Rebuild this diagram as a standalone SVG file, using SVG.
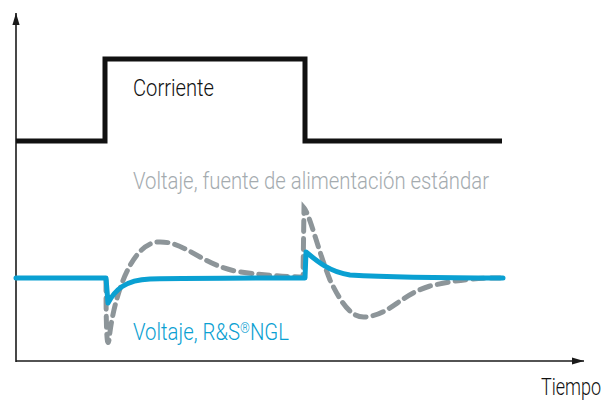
<svg xmlns="http://www.w3.org/2000/svg" width="608" height="401" viewBox="0 0 608 401">
<defs>
<style>
.t{font-family:Roboto,"Liberation Sans",sans-serif;font-weight:300;font-size:23px}
.ax{stroke:#1a1a1a;stroke-width:1.6;fill:none}
</style>
<marker id="ah" markerWidth="12" markerHeight="12" viewBox="0 0 20 12" refX="20" refY="6" markerUnits="userSpaceOnUse" orient="auto">
<path d="M0,0 L20,6 L0,12 Z" fill="#1a1a1a"/>
</marker>
</defs>
<rect width="608" height="401" fill="#fff"/>
<g id="connectors">
<line class="ax" x1="16" y1="362" x2="16" y2="13" marker-end="url(#ah)"/>
<line class="ax" x1="16" y1="361" x2="584" y2="361" marker-end="url(#ah)"/>
</g>
<g id="corriente">
<path d="M16,141 H105 V59 H305 V141 H502" fill="none" stroke="#111" stroke-width="5"/>
<text class="t" x="133" y="96" textLength="81" lengthAdjust="spacingAndGlyphs" fill="#111">Corriente</text>
</g>
<g id="voltaje-estandar">
<path d="M106,280 C106,330 107,350 109,340 C113,300 130,245 157,242 C185,240 200,265 240,272 C270,276 295,277 303,277 L304,208 C310,215 318,250 330,280 C342,305 352,318 365,317 C390,315 400,295 430,286 C460,279 480,278 500,278" fill="none" stroke="#8d9599" stroke-width="5" stroke-dasharray="11,7" stroke-linecap="round"/>
<text class="t" x="133" y="189" textLength="356" lengthAdjust="spacingAndGlyphs" fill="#a4abaf">Voltaje, fuente de alimentación estándar</text>
</g>
<g id="voltaje-ngl">
<path d="M16,278 H106 L108,303 C115,290 125,280 150,279 C200,278 260,278 305,278 L306,252 C318,262 330,272 350,275 C400,278 450,278 503,278" fill="none" stroke="#0aa0d2" stroke-width="5" stroke-linejoin="round" stroke-linecap="round"/>
<text class="t" x="133" y="340" textLength="156" lengthAdjust="spacingAndGlyphs" fill="#0aa0d2">Voltaje, R&amp;S<tspan font-size="14" baseline-shift="7">®</tspan>NGL</text>
</g>
<g id="tiempo">
<text class="t" x="541" y="395" textLength="60" lengthAdjust="spacingAndGlyphs" fill="#111">Tiempo</text>
</g>
</svg>
